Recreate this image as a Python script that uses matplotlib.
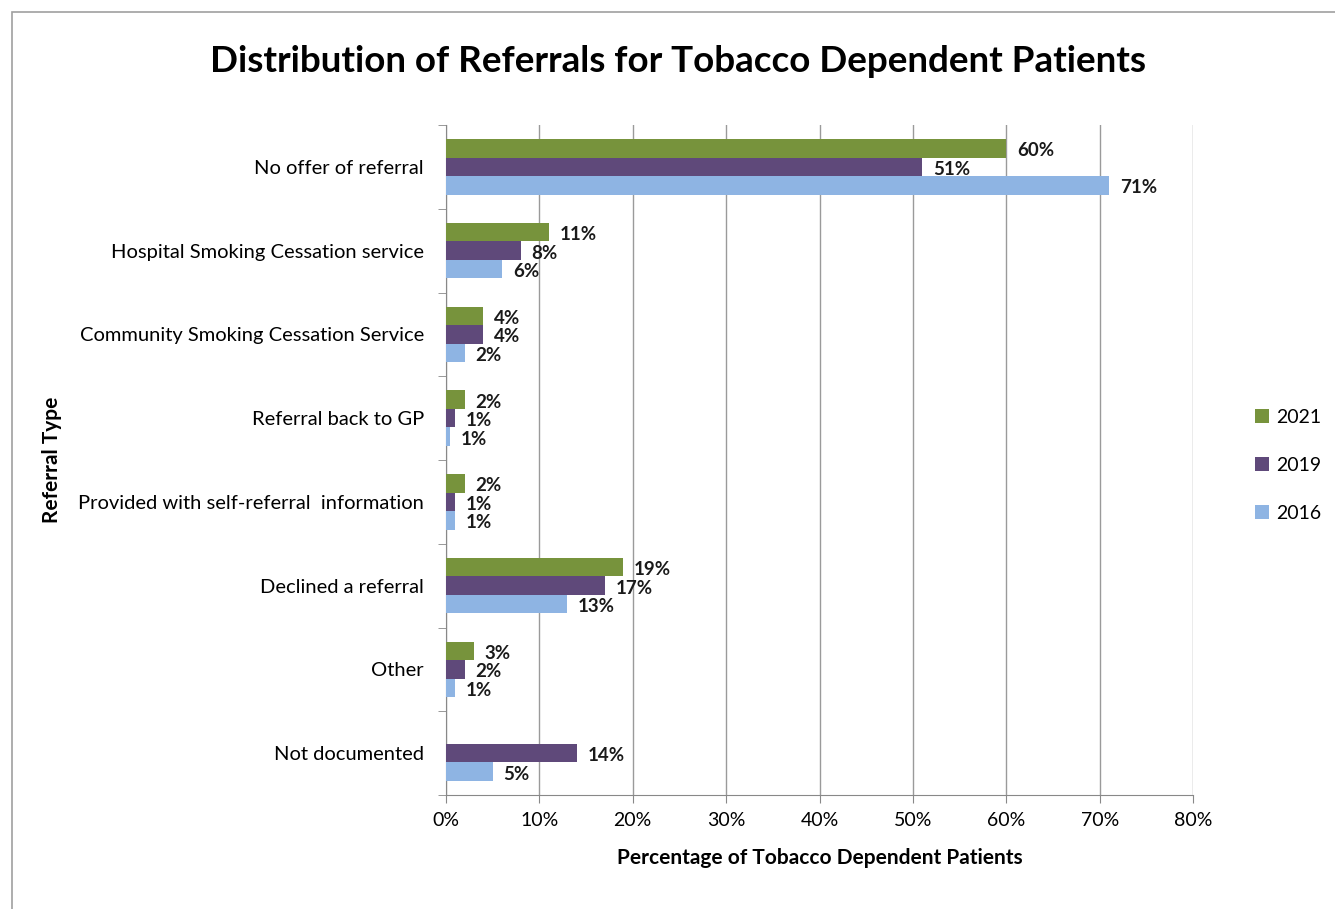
import matplotlib
matplotlib.use("Agg")
import matplotlib.pyplot as plt
import numpy as np
from matplotlib.patches import Rectangle

plt.rcParams['font.family'] = ['Lato', 'DejaVu Sans']

categories = ["No offer of referral", "Hospital Smoking Cessation service",
              "Community Smoking Cessation Service", "Referral back to GP",
              "Provided with self-referral  information", "Declined a referral",
              "Other", "Not documented"]
years = ["2021", "2019", "2016"]
vals_2021 = [60, 11, 4, 2, 2, 19, 3, 0]
vals_2019 = [51, 8, 4, 1, 1, 17, 2, 14]
vals_2016 = [71, 6, 2, 0.4, 1, 13, 1, 5]
labels_2021 = ["60%", "11%", "4%", "2%", "2%", "19%", "3%", ""]
labels_2019 = ["51%", "8%", "4%", "1%", "1%", "17%", "2%", "14%"]
labels_2016 = ["71%", "6%", "2%", "1%", "1%", "13%", "1%", "5%"]
colors = ["#77933C", "#5F497A", "#8EB4E3"]
xticks = [0, 10, 20, 30, 40, 50, 60, 70, 80]

fig = plt.figure(figsize=(13.35, 9.09), dpi=100)
fig.patches.append(Rectangle((12/1335, -0.01), 1.0, 1 - 12/909 + 0.01, transform=fig.transFigure,
                             fill=False, edgecolor="#A0A0A0", linewidth=1.2))
ax = fig.add_axes([446/1335, 1 - 795/909, (1193-446)/1335, (795-125)/909])

n = len(categories)
centers = np.arange(n)
h = 0.22
series = [(vals_2021, labels_2021), (vals_2019, labels_2019), (vals_2016, labels_2016)]
for i, ((vals, labs), col, yr) in enumerate(zip(series, colors, years)):
    ys = centers + (i - 1) * h
    ax.barh(ys, vals, height=h, color=col, label=yr, zorder=3)
    for y, v, lab in zip(ys, vals, labs):
        if lab:
            ax.text(v + 1.15, y + 0.03, lab, va="center", ha="left", fontsize=13.5,
                    fontweight="bold", color="#1a1a1a", zorder=4)

ax.set_ylim(n - 0.5, -0.5)
ax.set_xlim(0, 80)
ax.set_xticks(xticks)
ax.set_xticklabels([f"{t}%" for t in xticks], fontsize=14)
ax.set_yticks(centers)
ax.set_yticklabels(categories, fontsize=14.5)
ax.set_yticks(np.arange(n + 1) - 0.5, minor=True)
ax.tick_params(axis="y", which="major", length=0, pad=16)
ax.tick_params(axis="y", which="minor", length=6, color="#888888")
ax.tick_params(axis="x", length=6, color="#888888", pad=6)
ax.grid(axis="x", color="#9a9a9a", linewidth=1.0, zorder=0)
for s in ["top", "right"]:
    ax.spines[s].set_visible(False)
for s in ["left", "bottom"]:
    ax.spines[s].set_color("#888888")

ax.set_xlabel("Percentage of Tobacco Dependent Patients", fontsize=15, fontweight="bold", labelpad=14)
fig.text(52/1335, 1 - 460/909, "Referral Type", rotation=90, fontsize=15, fontweight="bold",
         ha="center", va="center")
fig.text(678/1335, 1 - 62/909, "Distribution of Referrals for Tobacco Dependent Patients",
         fontsize=26.5, fontweight="bold", ha="center", va="center")

leg = ax.legend(loc="center left", bbox_to_anchor=(1.06, 0.492), frameon=False, fontsize=14,
                handlelength=0.7, handleheight=0.7, labelspacing=1.6, handletextpad=0.35)

fig.savefig("out.png", dpi=100)
